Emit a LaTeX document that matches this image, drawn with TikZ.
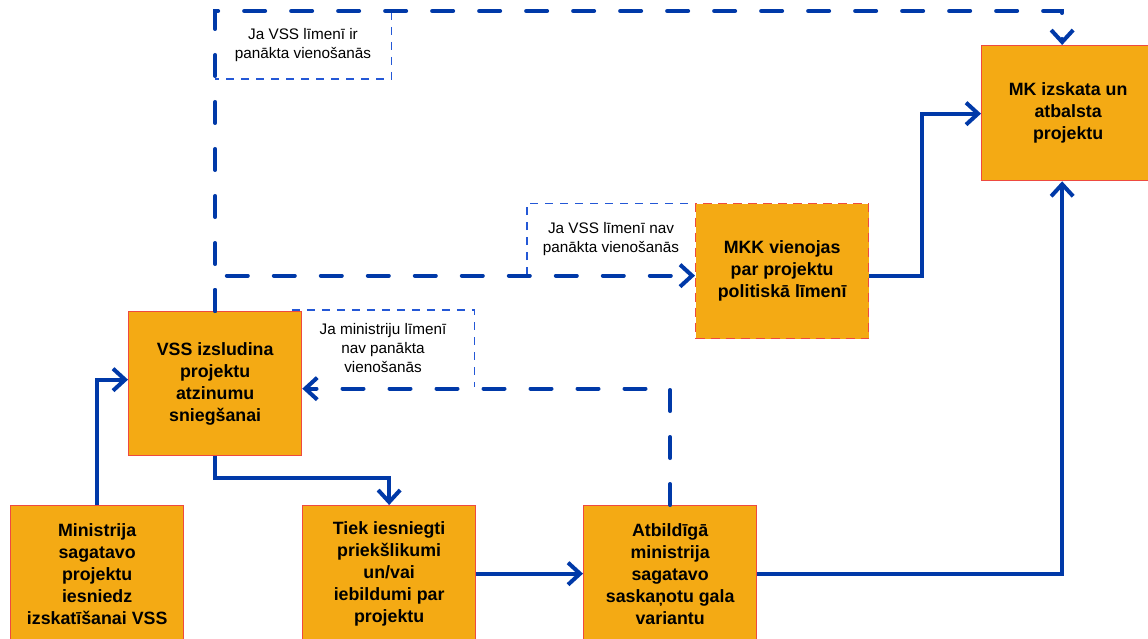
\documentclass[tikz,border=0pt]{standalone}
\usepackage{fontspec}
\setmainfont{Liberation Sans}
\usetikzlibrary{arrows.meta,calc}
\definecolor{lineblue}{HTML}{0039A8}
\definecolor{boxfill}{HTML}{F4AA14}
\definecolor{boxedge}{HTML}{EE4A40}
\definecolor{thinblue}{HTML}{2458D6}
\begin{document}
\begin{tikzpicture}[x=1pt,y=-1pt,
  box/.style={draw=boxedge, line width=1.3pt, fill=boxfill, minimum width=173pt,
    inner sep=0pt, align=center, anchor=north west,
    font=\fontsize{17.8}{22}\selectfont\bfseries},
  dbox/.style={box, dash pattern=on 9pt off 6pt},
  lbl/.style={inner sep=0pt, align=center, font=\fontsize{15.3}{19}\selectfont},
  thinside/.style={draw=thinblue, line width=1.4pt, dash pattern=on 8pt off 7pt},
  flow/.style={draw=lineblue, line width=4pt,
    -{Straight Barb[length=12pt,width=22pt,line width=4pt]}},
  dflow/.style={flow, line cap=round, dash pattern=on 21pt off 26pt}
]
\clip (0,0) rectangle (1148,639);
\fill[white] (0,0) rectangle (1148,639);

% labels
\node[lbl, minimum width=176pt, minimum height=67pt] (l1) at (303,45.5)
  {Ja VSS līmenī ir\\panākta vienošanās};
\node[lbl, minimum width=168pt, minimum height=71pt] (l2) at (611,239.5)
  {Ja VSS līmenī nav\\panākta vienošanās};
\node[lbl, minimum width=182pt, minimum height=77pt] (l3) at (383,348.5)
  {Ja ministriju līmenī\\nav panākta\\vienošanās};
\draw[thinside] (l1.north east) -- (l1.south east) -- (l1.south west);
\draw[thinside] (l2.south west) -- (l2.north west) -- (l2.north east);
\draw[thinside] (l3.north west) -- (l3.north east) -- (l3.south east);

% boxes
\node[box, minimum height=144pt] (vss) at (128,311)
  {VSS izsludina\\projektu\\atzinumu\\sniegšanai};
\node[box, minimum height=136pt] (min) at (10,505)
  {Ministrija\\sagatavo\\projektu\\iesniedz\\izskatīšanai VSS};
\node[box, minimum height=136pt] (tiek) at (302,505)
  {Tiek iesniegti\\priekšlikumi\\un/vai\\iebildumi par\\projektu};
\node[box, minimum height=136pt] (atb) at (583,505)
  {Atbildīgā\\ministrija\\sagatavo\\saskaņotu gala\\variantu};
\node[dbox, minimum height=135pt] (mkk) at (695,203)
  {MKK vienojas\\par projektu\\politiskā līmenī};
\node[box, minimum height=135pt] (mk) at (981,45)
  {MK izskata un\\atbalsta\\projektu};

% solid connectors
\draw[flow] (min.north) |- ($(vss.west)+(0,-4)$);
\draw[flow] (vss.south) -- ++(0,22) -| (tiek.north);
\draw[flow] (tiek.east) -- (atb.west);
\draw[flow] (atb.east) -| ($(mk.south)+(-6,0)$);
\draw[flow] ($(mkk.east)+(0,4.5)$) -- ++(53,0) |- ($(mk.west)+(0,0.5)$);

% dashed connectors
\coordinate (ytop) at (0,11);
\draw[dflow] (vss.north) -- (vss.north |- ytop) -| ($(mk.north)+(-6,0)$);
\draw[dflow] (vss.north) |- ($(mkk.west)+(0,4.5)$);
\draw[dflow] (atb.north) |- ($(vss.east)+(0,5)$);
\end{tikzpicture}
\end{document}
